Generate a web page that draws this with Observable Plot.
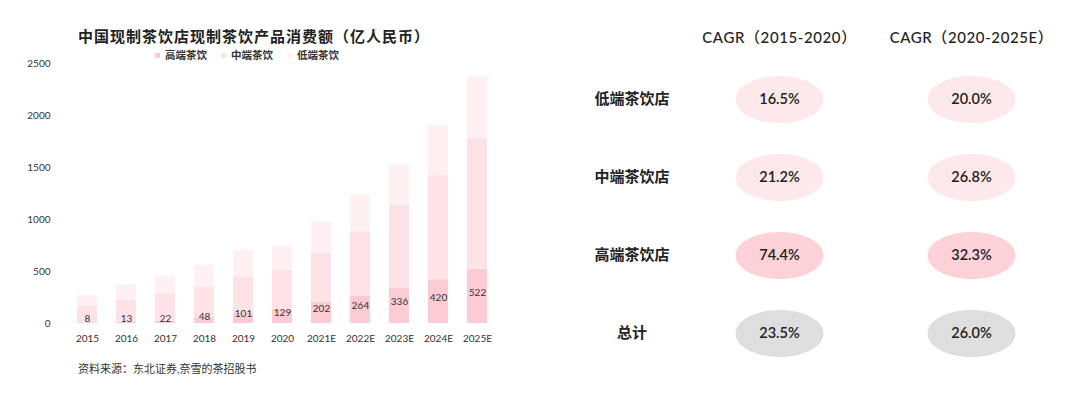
<!DOCTYPE html>
<html>
<head>
<meta charset="utf-8">
<script src="https://cdn.jsdelivr.net/npm/d3@7"></script>
<script src="https://cdn.jsdelivr.net/npm/@observablehq/plot@0.6"></script>
<style>
  html, body { margin: 0; padding: 0; background: #fff; }
  #root { position: relative; width: 1080px; height: 407px; overflow: hidden; font-family: Lato, "Noto Sans CJK SC", sans-serif; color: #222; }
  .abs { position: absolute; }
  #title { left: 78px; top: 25px; font-size: 15px; font-weight: 700; letter-spacing: 1px; white-space: nowrap; }
  #legend { left: 155px; top: 47px; font-size: 10.5px; font-weight: 600; display: flex; gap: 14px; white-space: nowrap; color: #333; }
  #legend span.sw { display: inline-block; width: 5px; height: 5px; margin-right: 5px; vertical-align: middle; position: relative; top: -1px; }
  #source { left: 78px; top: 360px; font-size: 11px; color: #333; white-space: nowrap; }
  #left { left: 0; top: 55px; }
  #right { left: 560px; top: 0; }
  #right g[aria-label="x-axis tick label"] text { letter-spacing: 0.6px; }
</style>
</head>
<body>
<div id="root">
  <div id="title" class="abs"></div>
  <div id="legend" class="abs"></div>
  <div id="left" class="abs"></div>
  <div id="source" class="abs"></div>
  <div id="right" class="abs"></div>
</div>
<script>
// ---- data ----
const titleText = "中国现制茶饮店现制茶饮产品消费额（亿人民币）";
const sourceText = "资料来源：东北证券,奈雪的茶招股书";
const years = ["2015","2016","2017","2018","2019","2020","2021E","2022E","2023E","2024E","2025E"];
const segments = ["高端茶饮","中端茶饮","低端茶饮"];
const high = [8, 13, 22, 48, 101, 129, 202, 264, 336, 420, 522];
const mid  = [156, 209, 265, 302, 346, 383, 470, 618, 803, 1002, 1261];
const low  = [106, 145, 170, 210, 258, 231, 306, 354, 393, 480, 594];
const yTicks = [0, 500, 1000, 1500, 2000, 2500];

const storeTypes = ["低端茶饮店","中端茶饮店","高端茶饮店","总计"];
const cagrPeriods = ["CAGR（2015-2020）","CAGR（2020-2025E）"];
const cagr2015_2020 = [16.5, 21.2, 74.4, 23.5];
const cagr2020_2025 = [20.0, 26.8, 32.3, 26.0];

// ---- styles ----
const segColors = ["#fccbd3", "#fde3e8", "#fef0f3"];
const ellipseColors = ["#fde8ec", "#fde8ec", "#fdd1d8", "#dedede"];
const font = 'Lato, "Noto Sans CJK SC", sans-serif';

document.getElementById("title").textContent = titleText;
document.getElementById("source").textContent = sourceText;
const legend = document.getElementById("legend");
segments.forEach((s, i) => {
  const item = document.createElement("div");
  item.innerHTML = `<span class="sw" style="background:${segColors[i]}"></span>${s}`;
  legend.appendChild(item);
});

// stacked table (high at bottom)
const series = [high, mid, low];
const table = [];
segments.forEach((seg, si) => {
  years.forEach((yr, i) => table.push({year: yr, segment: seg, value: series[si][i]}));
});
const highData = years.map((yr, i) => ({year: yr, value: high[i]}));

const left = Plot.plot({
  width: 540, height: 300,
  marginLeft: 58, marginRight: 34, marginTop: 8, marginBottom: 32,
  style: {fontFamily: font, fontSize: "10px", color: "#333", background: "transparent"},
  x: {domain: years, padding: 0.487, label: null, tickSize: 0, tickPadding: 11},
  y: {domain: [0, 2500], ticks: yTicks, tickFormat: d => String(d), label: null, tickSize: 0, tickPadding: 8},
  color: {domain: segments, range: segColors},
  marks: [
    Plot.barY(table, {x: "year", y: "value", fill: "segment"}),
    Plot.text(highData, {x: "year", y: d => d.value / 2, text: d => String(d.value), dy: -4, fill: "#333", fontSize: 10})
  ]
});
document.getElementById("left").appendChild(left);

// ---- CAGR table ----
const ellipse = {
  draw(ctx) {
    const rx = 44, ry = 23.5, k = 0.5523;
    ctx.moveTo(rx, 0);
    ctx.bezierCurveTo(rx, ry * k, rx * k, ry, 0, ry);
    ctx.bezierCurveTo(-rx * k, ry, -rx, ry * k, -rx, 0);
    ctx.bezierCurveTo(-rx, -ry * k, -rx * k, -ry, 0, -ry);
    ctx.bezierCurveTo(rx * k, -ry, rx, -ry * k, rx, 0);
    ctx.closePath();
  }
};
const cells = [];
storeTypes.forEach((t, i) => {
  cells.push({period: cagrPeriods[0], type: t, value: cagr2015_2020[i]});
  cells.push({period: cagrPeriods[1], type: t, value: cagr2020_2025[i]});
});

const right = Plot.plot({
  width: 520, height: 407,
  marginLeft: 140, marginRight: 20, marginTop: 60, marginBottom: 40,
  style: {fontFamily: font, color: "#222", background: "transparent"},
  x: {type: "point", domain: cagrPeriods, range: [219, 411], padding: 0, axis: null},
  y: {type: "point", domain: storeTypes, range: [98, 334], padding: 0, axis: null},
  color: {domain: storeTypes, range: ellipseColors},
  marks: [
    Plot.axisX({anchor: "top", tickSize: 0, tickPadding: 18, fontSize: 15, fontWeight: 500, fill: "#222", label: null}),
    Plot.axisY({anchor: "left", tickSize: 0, tickPadding: 68.5, textAnchor: "middle", fontSize: 15, fontWeight: 700, fill: "#222", label: null}),
    Plot.dot(cells, {x: "period", y: "type", symbol: ellipse, fill: "type", r: 10}),
    Plot.text(cells, {x: "period", y: "type", text: d => d.value.toFixed(1) + "%", fontSize: 14.5, fontWeight: 600, fill: "#222"})
  ]
});
document.getElementById("right").appendChild(right);
</script>
</body>
</html>
